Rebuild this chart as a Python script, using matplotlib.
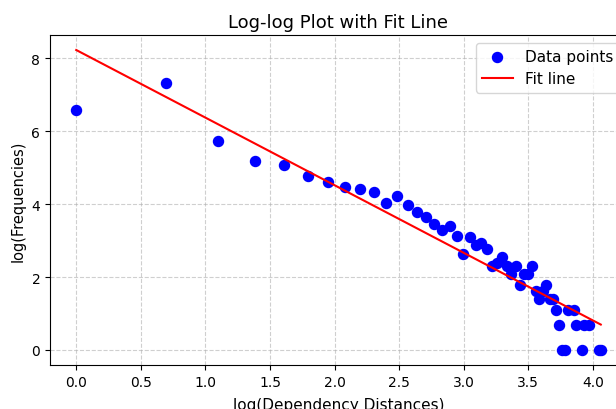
import numpy as np
import matplotlib
matplotlib.use("Agg")
import matplotlib.pyplot as plt

# Dependency distances and their frequencies
distances = [1, 2, 3, 4, 5, 6, 7, 8, 9, 10,
             11, 12, 13, 14, 15, 16, 17, 18, 19, 20,
             21, 22, 23, 24, 25, 26, 27, 28, 29, 30,
             31, 32, 33, 34, 35, 36, 37, 38, 39, 40,
             41, 42, 43, 44, 45, 47, 48, 50, 51, 53, 57, 58]
frequencies = [720, 1510, 311, 178, 161, 119, 99, 87, 82, 76,
               56, 68, 53, 44, 38, 32, 27, 30, 23, 14,
               22, 18, 19, 16, 10, 11, 13, 10, 8, 10,
               6, 8, 8, 10, 5, 4, 5, 6, 4, 4,
               3, 2, 1, 1, 3, 3, 2, 1, 2, 2, 1, 1]

# Fit line parameters
fit_slope = -1.855
fit_intercept = 8.23

log_x = np.log(distances)
log_y = np.log(frequencies)

W, H = 616, 410
fig = plt.figure(figsize=(W / 100, H / 100), dpi=100)
ax = fig.add_axes([50 / W, (H - 366) / H, (627 - 50) / W, (366 - 36) / H])

ax.scatter(log_x, log_y, color='blue', s=52, label='Data points', zorder=3)
xs = np.array([log_x.min(), log_x.max()])
ax.plot(xs, fit_intercept + fit_slope * xs, color='red', linewidth=1.5,
        label='Fit line', zorder=4)

ax.set_title('Log-log Plot with Fit Line', fontsize=13)
ax.set_xlabel('log(Dependency Distances)', fontsize=11, labelpad=6)
ax.set_ylabel('log(Frequencies)', fontsize=10.5)
ax.grid(True, linestyle='--', alpha=0.6)
ax.set_xticks([0.0, 0.5, 1.0, 1.5, 2.0, 2.5, 3.0, 3.5, 4.0])
ax.set_yticks([0, 2, 4, 6, 8])
ax.tick_params(labelsize=10)
ax.legend(loc='upper right', fontsize=11)

fig.savefig('out.png', dpi=100)
